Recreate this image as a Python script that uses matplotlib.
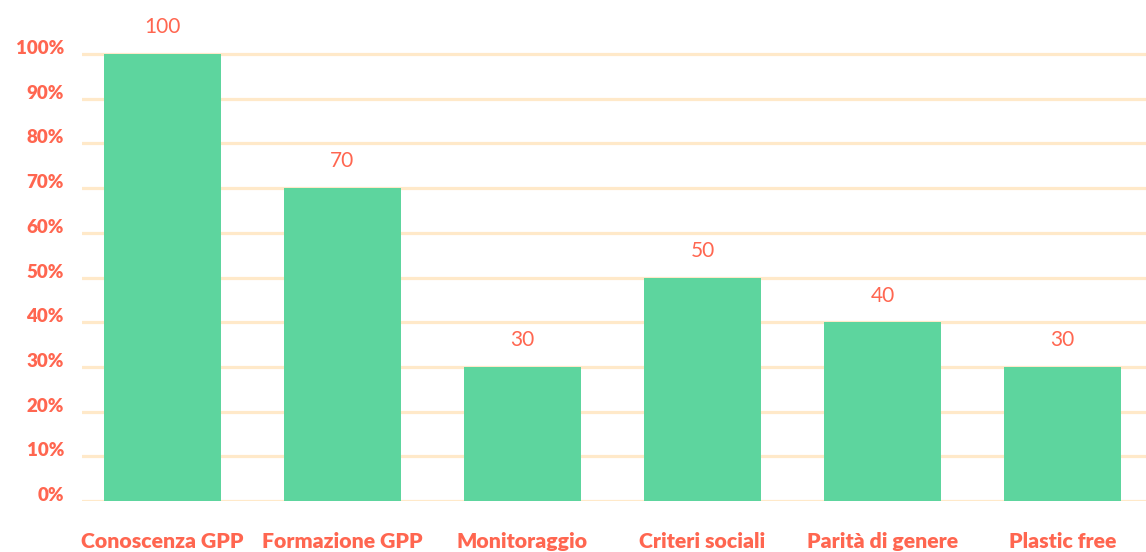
import matplotlib.pyplot as plt
import matplotlib.transforms as mtransforms

categories = ['Conoscenza GPP', 'Formazione GPP', 'Monitoraggio',
              'Criteri sociali', 'Parità di genere', 'Plastic free']
values = [100, 70, 30, 50, 40, 30]
yticks = [0, 10, 20, 30, 40, 50, 60, 70, 80, 90, 100]
ytick_labels = [f'{t}%' for t in yticks]

red = '#FF6650'
green = '#5DD59E'
grid = '#FFE9C9'

plt.rcParams['font.family'] = ['Lato', 'DejaVu Sans']

W, H = 1146, 552
fig = plt.figure(figsize=(W / 100, H / 100), dpi=100)
# axes placed in pixel terms: left 82, right 1146, bottom y=501, top y=10
ax = fig.add_axes([82 / W, (H - 501) / H, (W - 82) / W, (501 - 10) / H])

x = list(range(len(categories)))
ax.bar(x, values, width=0.65, color=green, zorder=2)

for xi, v in zip(x, values):
    ax.annotate(str(v), (xi, v), xytext=(0, 12), textcoords='offset points',
                ha='center', va='bottom', color=red, fontsize=15)

ax.set_xlim(-0.447, 5.464)
ax.set_ylim(0, (501 - 10) / 4.47)
ax.set_yticks(yticks)
ax.set_yticklabels(ytick_labels)
ax.set_xticks(x)
ax.set_xticklabels(categories)

ax.yaxis.grid(True, color=grid, linewidth=2.3, zorder=1)
ax.set_axisbelow(True)
for s in ax.spines.values():
    s.set_visible(False)
ax.tick_params(axis='both', length=0)
ax.tick_params(axis='y', pad=13, labelsize=13.5, labelcolor=red)
ax.tick_params(axis='x', pad=22, labelsize=15.3, labelcolor=red)
for lab in ax.get_xticklabels() + ax.get_yticklabels():
    lab.set_fontweight('heavy')

# y labels in the original sit a little above their gridlines
shift = mtransforms.ScaledTranslation(0, 7 / 100, fig.dpi_scale_trans)
for lab in ax.get_yticklabels():
    lab.set_transform(lab.get_transform() + shift)

fig.savefig('out.png', dpi=100)
